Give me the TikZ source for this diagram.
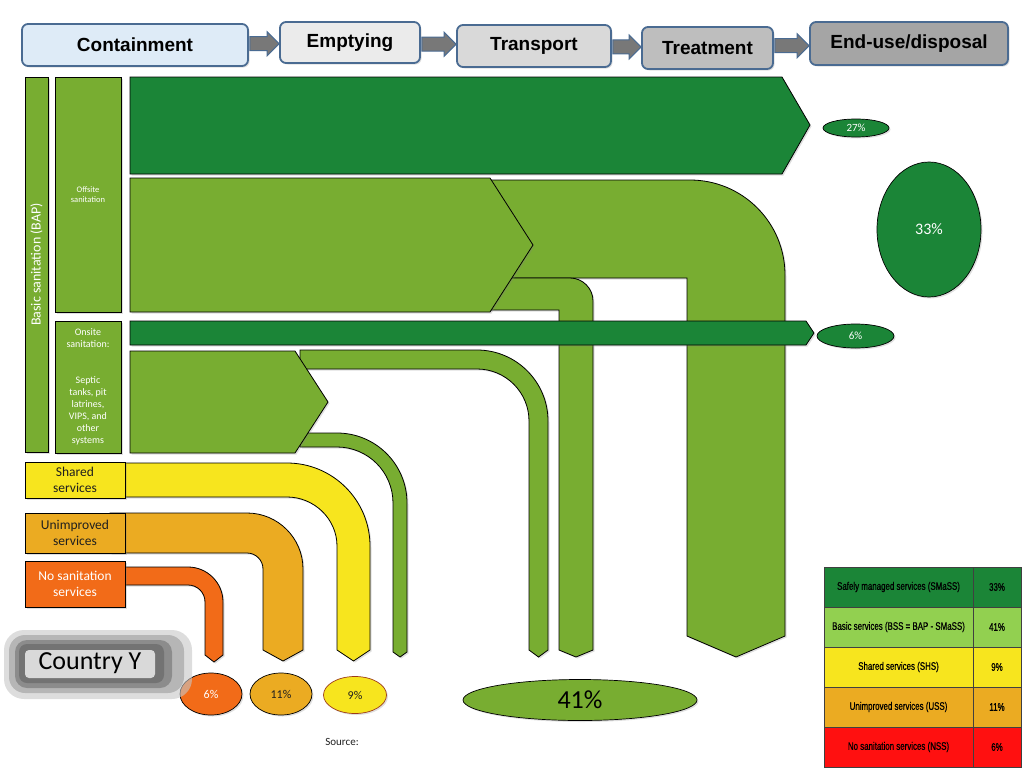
\documentclass[tikz,border=0pt]{standalone}
\usepackage{fontspec}
\setmainfont{Carlito}
\newfontfamily\arial{Liberation Sans}
\newfontfamily\narrow[FakeStretch=0.72,FakeBold=0.6]{Liberation Sans}
\usetikzlibrary{shapes.geometric,shadows,calc}
\definecolor{dgreen}{HTML}{1B8537}
\definecolor{lgreen}{HTML}{78AD31}
\definecolor{yel}{HTML}{F7E51E}
\definecolor{org}{HTML}{EBAB22}
\definecolor{redorg}{HTML}{F26B18}
\definecolor{tgreen}{HTML}{92D050}
\definecolor{tred}{HTML}{FF1010}
\definecolor{hdrline}{HTML}{4A6B92}
\definecolor{harrowfill}{HTML}{787878}
\definecolor{txtdark}{HTML}{1F1F1F}
\definecolor{ninebrd}{HTML}{9C3B1A}
\newcommand{\hdrarrow}[2]{%
  \filldraw[harrow] let \p1=(#1.east), \p2=(#2.west), \n1={0.5*(\y1+\y2)} in
  (\x1+1pt,\n1*1pt+7pt) -- (\x2-12pt,\n1*1pt+7pt) -- (\x2-12pt,\n1*1pt+12pt) -- (\x2,\n1*1pt)
  -- (\x2-12pt,\n1*1pt-12pt) -- (\x2-12pt,\n1*1pt-7pt) -- (\x1+1pt,\n1*1pt-7pt) -- cycle;}
\begin{document}
\begin{tikzpicture}[x=1pt,y=-1pt,
  shd/.style={drop shadow={opacity=0.25,shadow xshift=1.5pt,shadow yshift=-1.5pt}},
  bandL/.style={fill=lgreen,draw=black,line width=0.8pt,line join=miter,shd},
  bandD/.style={fill=dgreen,draw=black,line width=0.8pt,line join=miter,shd},
  bandY/.style={fill=yel,draw=black,line width=0.8pt,shd},
  bandO/.style={fill=org,draw=black,line width=0.8pt,shd},
  bandR/.style={fill=redorg,draw=black,line width=0.8pt,shd},
  lbl/.style={draw=black,line width=0.8pt,inner sep=1pt,align=center,shd},
  ell/.style={ellipse,draw=black,line width=0.7pt,inner sep=0pt,shd},
  hdr/.style={draw=hdrline,line width=1.8pt,rounded corners=6pt,inner sep=0pt,
    font=\arial\bfseries\fontsize{19}{22}\selectfont,shd},
  harrow/.style={fill=harrowfill,draw=hdrline,line width=1pt,line join=miter},
  tcell/.style={draw=black!75,line width=0.5pt,inner sep=0pt,minimum height=40pt,
    font=\narrow\fontsize{11}{13}\selectfont,text=black}]
\useasboundingbox (0,0) rectangle (1024,768);

% ---- flows ----
\filldraw[bandD] (130,77) -- (782,77) -- (810,125) -- (782,174) -- (130,174) -- cycle;
\filldraw[bandL] (480,180) -- (690,180) .. controls (742.5,180) and (785,222.5) .. (785,275)
  -- (785,636) -- (736,657) -- (687,636) -- (687,278) -- (480,278) -- cycle;
\filldraw[bandL] (480,278) -- (570,278) .. controls (582.7,278) and (593,288.3) .. (593,301)
  -- (593,650) -- (576,657) -- (559,650) -- (559,310) -- (480,310) -- cycle;
\filldraw[bandL] (130,178) -- (490,178) -- (533,245) -- (490,312) -- (130,312) -- cycle;
\filldraw[bandD] (130,321) -- (806,321) -- (814,333) -- (806,345) -- (130,345) -- cycle;
\filldraw[bandL] (300,350) -- (477,350) .. controls (516.2,350) and (548,381.8) .. (548,421)
  -- (548,650) -- (538.5,657) -- (529,650) -- (529,421) .. controls (529,392.3) and (505.7,369) .. (477,369)
  -- (300,369) -- cycle;
\filldraw[bandL] (300,433) -- (337,433) .. controls (375.7,433) and (407,464.3) .. (407,503)
  -- (407,652) -- (400,657) -- (393,652) -- (393,503) .. controls (393,472.1) and (367.9,447) .. (337,447)
  -- (300,447) -- cycle;
\filldraw[bandL] (130,351) -- (295,351) -- (328,402) -- (295,453) -- (130,453) -- cycle;
\filldraw[bandY] (110,463) -- (287,463) .. controls (332.8,463) and (370,500.2) .. (370,546)
  -- (370,650) -- (353.5,661) -- (337,650) -- (337,546) .. controls (337,518.9) and (314.1,497) .. (287,497)
  -- (110,497) -- cycle;
\filldraw[bandO] (110,513) -- (247,513) .. controls (277.9,513) and (303,538.1) .. (303,569)
  -- (303,650) -- (283,661) -- (263,650) -- (263,569) .. controls (263,560.2) and (255.8,553) .. (247,553)
  -- (110,553) -- cycle;
\filldraw[bandR] (110,567) -- (188,567) .. controls (207.3,567) and (223,582.7) .. (223,602)
  -- (223,655) -- (214,662) -- (205,655) -- (205,602) .. controls (205,592.6) and (197.4,585) .. (188,585)
  -- (110,585) -- cycle;

% ---- left labels ----
\node[lbl,fill=lgreen,rotate=90,minimum width=375pt,minimum height=23pt,text=white,
  font=\fontsize{14}{16}\selectfont] (bap) at (36.5,264.5) {Basic sanitation (BAP)};
\node[lbl,fill=lgreen,minimum width=66pt,minimum height=235pt,text=white,
  font=\fontsize{8.5}{10.5}\selectfont] (off) at (88,194.5) {Offsite\\sanitation};
\node[lbl,fill=lgreen,minimum width=66pt,minimum height=132pt,text=white,inner sep=0pt,
  font=\fontsize{10}{12}\selectfont] (on) at (88,387)
  {Onsite\\sanitation:\\[24pt]Septic\\tanks, pit\\latrines,\\VIPS, and\\other\\systems};
\node[lbl,fill=yel,minimum width=100pt,minimum height=36pt,text=txtdark,
  font=\fontsize{13.5}{16.5}\selectfont] (sh) at (75,480) {Shared\\services};
\node[lbl,fill=org,minimum width=100pt,minimum height=40pt,text=txtdark,
  font=\fontsize{13.5}{16.5}\selectfont] (un) at (75,533) {Unimproved\\services};
\node[lbl,fill=redorg,minimum width=100pt,minimum height=46pt,text=white,
  font=\fontsize{13.5}{16.5}\selectfont] (ns) at (75,584) {No sanitation\\services};

% ---- result ellipses ----
\node[ell,fill=dgreen,text=white,minimum width=66pt,minimum height=18pt,
  font=\fontsize{11}{12}\selectfont] (e27) at (856,128) {27\%};
\node[ell,fill=dgreen,text=white,minimum width=104pt,minimum height=135pt,
  font=\fontsize{16}{18}\selectfont] (e33) at (929,229.5) {33\%};
\node[ell,fill=dgreen,text=white,minimum width=77pt,minimum height=24pt,
  font=\fontsize{11}{12}\selectfont] (e6a) at (855.5,336) {6\%};
\node[ell,fill=redorg,text=white,minimum width=62pt,minimum height=42pt,
  font=\fontsize{12}{14}\selectfont] (e6b) at (211,694) {6\%};
\node[ell,fill=org,text=txtdark,minimum width=62pt,minimum height=42pt,
  font=\fontsize{12}{14}\selectfont] (e11) at (281,694) {11\%};
\node[ell,fill=yel,draw=ninebrd,text=txtdark,minimum width=63pt,minimum height=37pt,
  font=\fontsize{12}{14}\selectfont] (e9) at (355,695) {9\%};
\node[ell,fill=lgreen,text=black,minimum width=234pt,minimum height=41pt,
  font=\fontsize{26}{30}\selectfont] (e41) at (580,700) {41\%};

% ---- Country Y ----
\fill[black!22,opacity=0.6,rounded corners=20pt] (4,630) rectangle (192,699);
\fill[black!32,opacity=0.8,rounded corners=16pt] (9,635) rectangle (184,693);
\fill[black!45,rounded corners=12pt] (15,640) rectangle (172,688);
\fill[black!55,rounded corners=8pt] (19,644) rectangle (164,683);
\fill[black!15,rounded corners=4pt] (25,650) rectangle (155,678);
\node[font=\fontsize{26}{30}\selectfont,text=black] (country) at (90,663) {Country Y};

\node[font=\fontsize{11}{13}\selectfont,text=txtdark] (src) at (342,742) {Source:};

% ---- table ----
\node[tcell,fill=dgreen,minimum width=149pt] (t1) at (898.5,587) {Safely managed services (SMaSS)};
\node[tcell,fill=dgreen,minimum width=48pt] (v1) at (997,587) {33\%};
\node[tcell,fill=tgreen,minimum width=149pt] (t2) at (898.5,627) {Basic services (BSS = BAP - SMaSS)};
\node[tcell,fill=tgreen,minimum width=48pt] (v2) at (997,627) {41\%};
\node[tcell,fill=yel,minimum width=149pt] (t3) at (898.5,667) {Shared services (SHS)};
\node[tcell,fill=yel,minimum width=48pt] (v3) at (997,667) {9\%};
\node[tcell,fill=org,minimum width=149pt] (t4) at (898.5,707) {Unimproved services (USS)};
\node[tcell,fill=org,minimum width=48pt] (v4) at (997,707) {11\%};
\node[tcell,fill=tred,minimum width=149pt] (t5) at (898.5,747) {No sanitation services (NSS)};
\node[tcell,fill=tred,minimum width=48pt] (v5) at (997,747) {6\%};

% ---- header chain ----
\node[hdr,fill={rgb,255:red,222;green,235;blue,247},minimum width=226pt,minimum height=42pt] (cont) at (135,45) {Containment};
\node[hdr,fill={rgb,255:red,235;green,235;blue,235},minimum width=140pt,minimum height=41pt] (empt) at (350,42.5) {Emptying};
\node[hdr,fill={rgb,255:red,217;green,217;blue,217},minimum width=154pt,minimum height=42pt] (trans) at (534,46) {Transport};
\node[hdr,fill={rgb,255:red,190;green,190;blue,190},minimum width=131pt,minimum height=42pt] (treat) at (707.5,48) {Treatment};
\node[hdr,fill={rgb,255:red,165;green,165;blue,165},minimum width=198pt,minimum height=43pt] (endu) at (909,43.5) {End-use/disposal};
\hdrarrow{cont}{empt}
\hdrarrow{empt}{trans}
\hdrarrow{trans}{treat}
\hdrarrow{treat}{endu}
\end{tikzpicture}
\end{document}
